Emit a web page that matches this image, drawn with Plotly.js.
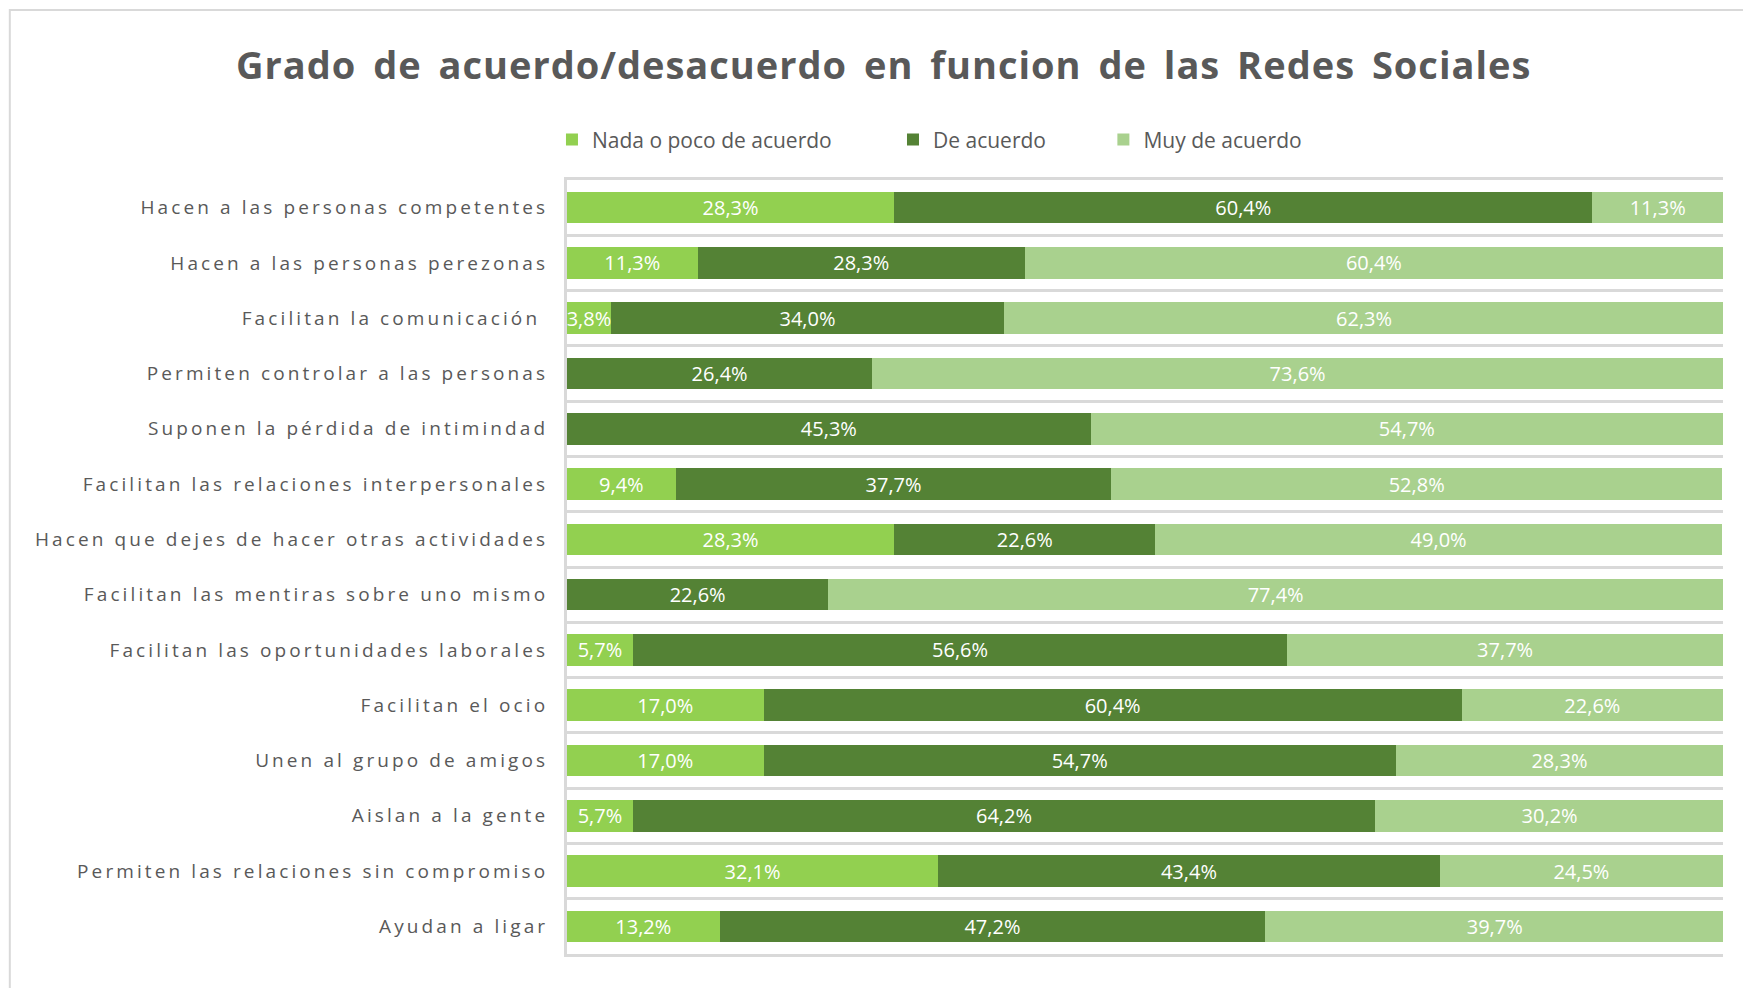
<!DOCTYPE html>
<html>
<head>
<meta charset="utf-8">
<script src="https://cdn.plot.ly/plotly-3.0.1.min.js"></script>
<style>
  html, body { margin: 0; padding: 0; background: #ffffff; }
  #chart { width: 1743px; height: 988px; }
  #chart .ytick text { letter-spacing: 3.1px; }
  #chart .gtitle { letter-spacing: 1px; word-spacing: 6px; }
</style>
</head>
<body>
<div id="chart"></div>
<script>
const categories = [
  "Hacen a las personas competentes",
  "Hacen a las personas perezonas",
  "Facilitan la comunicación\u00a0",
  "Permiten controlar a las personas",
  "Suponen la pérdida de intimindad",
  "Facilitan las relaciones interpersonales",
  "Hacen que dejes de hacer otras actividades",
  "Facilitan las mentiras sobre uno mismo",
  "Facilitan las oportunidades laborales",
  "Facilitan el ocio",
  "Unen al grupo de amigos",
  "Aislan a la gente",
  "Permiten las relaciones sin compromiso",
  "Ayudan a ligar"
];
const nadaPoco   = [28.3, 11.3, 3.8, 0, 0, 9.4, 28.3, 0, 5.7, 17.0, 17.0, 5.7, 32.1, 13.2];
const deAcuerdo  = [60.4, 28.3, 34.0, 26.4, 45.3, 37.7, 22.6, 22.6, 56.6, 60.4, 54.7, 64.2, 43.4, 47.2];
const muyAcuerdo = [11.3, 60.4, 62.3, 73.6, 54.7, 52.8, 49.0, 77.4, 37.7, 22.6, 28.3, 30.2, 24.5, 39.7];
const seriesNames = ["Nada o poco de acuerdo", "De acuerdo", "Muy de acuerdo"];
const seriesColors = ["#92D050", "#548235", "#A9D18E"];
const chartTitle = "Grado de acuerdo/desacuerdo en funcion de las Redes Sociales";

const FONT = "'Open Sans', 'Liberation Sans', sans-serif";
const fmt = v => v > 0 ? v.toFixed(1).replace('.', ',') + '%' : '';

const seriesValues = [nadaPoco, deAcuerdo, muyAcuerdo];
const legendIds = ["legend", "legend2", "legend3"];

const traces = seriesValues.map((vals, i) => ({
  type: 'bar',
  orientation: 'h',
  name: seriesNames[i],
  y: categories,
  x: vals,
  text: vals.map(fmt),
  textposition: 'inside',
  insidetextanchor: 'middle',
  textfont: { family: FONT, size: 20, color: '#ffffff' },
  marker: { color: seriesColors[i], line: { width: 0 } },
  hoverinfo: 'skip',
  showlegend: true,
  legend: legendIds[i]
}));

const legendBase = {
  orientation: 'h',
  yref: 'paper',
  y: 1.052,
  yanchor: 'middle',
  xanchor: 'left',
  font: { family: FONT, size: 21, color: '#595959' },
  bgcolor: 'rgba(0,0,0,0)',
  borderwidth: 0
};

const layout = {
  width: 1743,
  height: 988,
  paper_bgcolor: '#ffffff',
  plot_bgcolor: '#ffffff',
  margin: { l: 567, r: 20, t: 180, b: 34 },
  barmode: 'stack',
  bargap: 0.43,
  separators: ',.',
  showlegend: true,
  uniformtext: { mode: 'show', minsize: 20 },
  title: {
    text: chartTitle,
    font: { family: FONT, size: 38, color: '#595959', weight: 'bold' },
    xref: 'container', x: 0.507, xanchor: 'center',
    yref: 'container', y: 0.933, yanchor: 'middle'
  },
  legend: Object.assign({}, legendBase, { x: -0.013 }),
  legend2: Object.assign({}, legendBase, { x: 0.282 }),
  legend3: Object.assign({}, legendBase, { x: 0.464 }),
  xaxis: {
    range: [0, 100],
    showticklabels: false,
    showgrid: false,
    zeroline: false,
    showline: true,
    mirror: true,
    linecolor: '#D9D9D9',
    linewidth: 3,
    ticks: ''
  },
  yaxis: {
    type: 'category',
    autorange: 'reversed',
    tickson: 'boundaries',
    showgrid: true,
    gridcolor: '#D9D9D9',
    gridwidth: 3,
    showline: true,
    linecolor: '#D9D9D9',
    linewidth: 3,
    ticks: '',
    ticklabelstandoff: 12,
    tickfont: { family: FONT, size: 19, color: '#595959' }
  },
  shapes: [{
    type: 'rect', xref: 'paper', yref: 'paper',
    x0: -0.482, x1: 1.2, y0: -0.2, y1: 1.2196,
    line: { color: '#D9D9D9', width: 2 },
    fillcolor: 'rgba(0,0,0,0)',
    layer: 'below'
  }]
};

Plotly.newPlot('chart', traces, layout, { displayModeBar: false, staticPlot: true });
</script>
</body>
</html>
